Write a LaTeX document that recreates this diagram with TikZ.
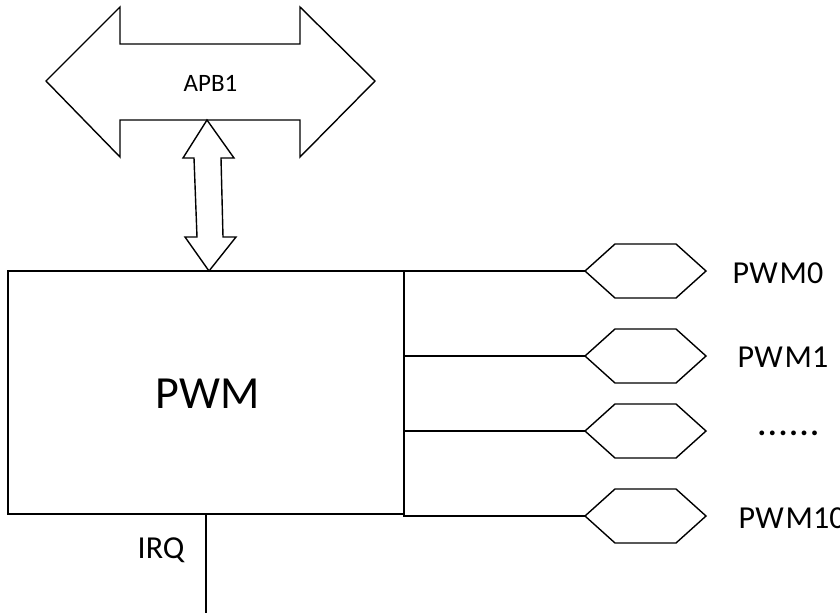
\documentclass[tikz,border=0pt]{standalone}
\usepackage{fontspec}
\setmainfont{Carlito}
\begin{document}
\begin{tikzpicture}[x=1pt,y=-1pt,line width=1.4pt,line join=miter,
  lbl/.style={inner sep=0pt,anchor=base west,font=\fontsize{32}{34}\selectfont},
  hexa/.style={minimum width=121pt,minimum height=54pt,inner sep=0pt,outer sep=0pt},
  hexline/.style={draw=black,fill=white}]
\useasboundingbox (0,0) rectangle (840,613);

% APB1 bus (double arrow)
\draw[fill=white] (46,81) -- (120,7) -- (120,44) -- (300,44) -- (300,7) -- (375,81)
  -- (300,157) -- (300,120) -- (120,120) -- (120,157) -- cycle;
\node[inner sep=0pt,anchor=base west,font=\fontsize{25}{27}\selectfont] (apb) at (183,91) {APB1};

% PWM block
\node[draw,minimum width=396pt,minimum height=243pt,outer sep=0pt,anchor=north west] (pwm) at (8,271) {};
\node[inner sep=0pt,anchor=base west,font=\fontsize{46}{48}\selectfont] (pwmtxt) at (155,408) {PWM};

% vertical double arrow between APB1 and PWM
\coordinate (bt) at (207,120);
\coordinate (bb) at (209,271);
\draw[fill=white] (bt) -- (234,158) -- (221,158) -- (223,237) -- (236,237) -- (bb)
  -- (185,237) -- (197,237) -- (194,158) -- (183,158) -- cycle;

% output hexagons
\foreach \nm/\yy in {h0/271,h1/356,h2/431,h3/516}{
  \node[hexa] (\nm) at (645.5,\yy) {};
  \draw[hexline] (\nm.west) -- ([xshift=30pt]\nm.north west) -- ([xshift=-30pt]\nm.north east)
    -- (\nm.east) -- ([xshift=-30pt]\nm.south east) -- ([xshift=30pt]\nm.south west) -- cycle;
}

% bus lines
\draw (pwm.north east) -- (h0.west);
\draw (pwm.north east) -- (pwm.north east |- h3.west) -- (h3.west);
\draw (pwm.east |- h1.west) -- (h1.west);
\draw (pwm.east |- h2.west) -- (h2.west);

% IRQ line
\coordinate (irqend) at (206,613);
\draw (pwm.south) -- (irqend);
\node[lbl] (irq) at (137,558) {IRQ};

% labels
\node[lbl] (l0) at (732,283) {PW\kern2ptM0};
\node[lbl] (l1) at (737,367) {PW\kern2ptM1};
\node[lbl,font=\fontsize{32}{34}\selectfont\bfseries] (l2) at (757,435) {.\kern2pt.\kern2pt.\kern2pt.\kern2pt.\kern2pt.};
\node[lbl] (l3) at (738,528) {PW\kern2ptM10};
\end{tikzpicture}
\end{document}
